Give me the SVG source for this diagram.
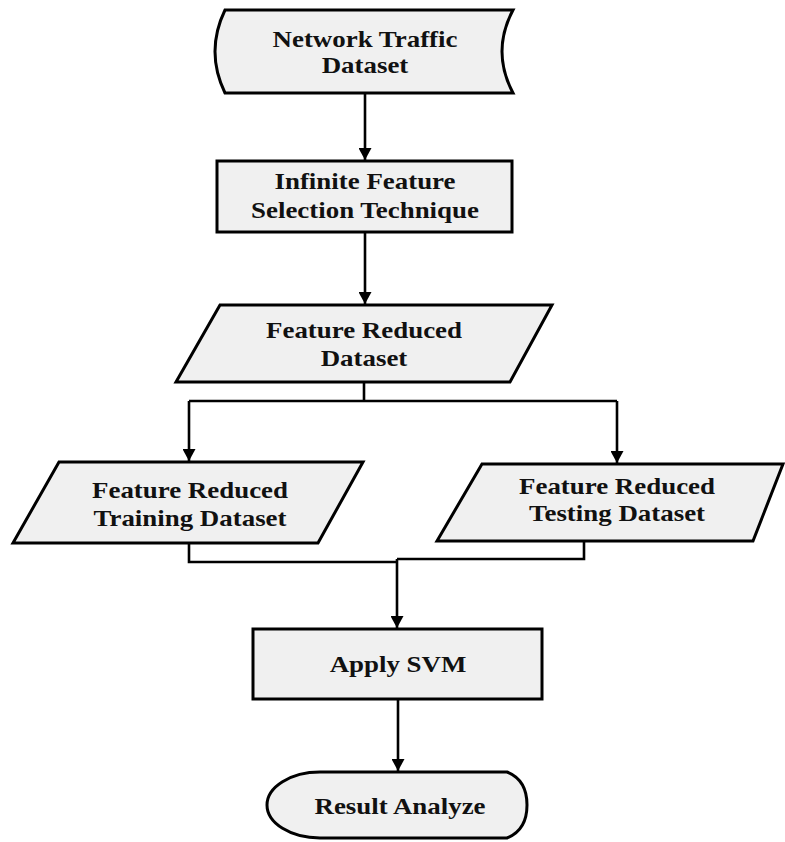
<svg xmlns="http://www.w3.org/2000/svg" width="785" height="842" viewBox="0 0 785 842">
<style>
.shape{fill:#f0f0f0;stroke:#000;stroke-width:3;stroke-linejoin:miter}
.conn{fill:none;stroke:#000;stroke-width:2.6}
.lbl{font-family:"Liberation Serif","Times New Roman",serif;font-weight:bold;font-size:23px;text-anchor:middle;fill:#111}
</style>
<defs>
<marker id="arr" viewBox="0 0 12 13" refX="12" refY="6.5" markerWidth="12" markerHeight="13" markerUnits="userSpaceOnUse" orient="auto">
<path d="M0,0 L12,6.5 L0,13 z" fill="#000"/>
</marker>
</defs>
<rect width="785" height="842" fill="#fff"/>
<g id="connectors">
<path class="conn" d="M365,93 V160" marker-end="url(#arr)"/>
<path class="conn" d="M365,232 V304" marker-end="url(#arr)"/>
<path class="conn" d="M364,382 V401"/>
<path class="conn" d="M189,401 H617"/>
<path class="conn" d="M189,401 V461" marker-end="url(#arr)"/>
<path class="conn" d="M617,401 V463" marker-end="url(#arr)"/>
<path class="conn" d="M189,543 V562 H397"/>
<path class="conn" d="M584,541 V559 H397"/>
<path class="conn" d="M397,559 V628" marker-end="url(#arr)"/>
<path class="conn" d="M398,699 V771" marker-end="url(#arr)"/>
</g>
<g id="n1">
<path class="shape" d="M225,10 L513,10 Q491,51.5 513,93 L225,93 Q205,51.5 225,10 Z"/>
<text class="lbl" transform="translate(365,47) scale(1.17,1)">Network Traffic</text>
<text class="lbl" transform="translate(365,73) scale(1.17,1)">Dataset</text>
</g>
<g id="n2">
<rect class="shape" x="217" y="161" width="295" height="71"/>
<text class="lbl" transform="translate(365,189) scale(1.17,1)">Infinite Feature</text>
<text class="lbl" transform="translate(365,218) scale(1.17,1)">Selection Technique</text>
</g>
<g id="n3">
<path class="shape" d="M220,305 L552,305 L510,382 L176,382 Z"/>
<text class="lbl" transform="translate(364,338) scale(1.17,1)">Feature Reduced</text>
<text class="lbl" transform="translate(364,366) scale(1.17,1)">Dataset</text>
</g>
<g id="n4">
<path class="shape" d="M59,462 L363,462 L318,543 L13,543 Z"/>
<text class="lbl" transform="translate(190,498) scale(1.17,1)">Feature Reduced</text>
<text class="lbl" transform="translate(190,526) scale(1.17,1)">Training Dataset</text>
</g>
<g id="n5">
<path class="shape" d="M482,464 L783,464 L753,541 L437,541 Z"/>
<text class="lbl" transform="translate(617,494) scale(1.17,1)">Feature Reduced</text>
<text class="lbl" transform="translate(617,521) scale(1.17,1)">Testing Dataset</text>
</g>
<g id="n6">
<rect class="shape" x="253" y="629" width="289" height="70"/>
<text class="lbl" transform="translate(398,672) scale(1.17,1)">Apply SVM</text>
</g>
<g id="n7">
<path class="shape" d="M320,772 L507,772 Q527,780 527,805 Q527,830 507,838 L320,838 A53,33 0 0 1 320,772 Z"/>
<text class="lbl" transform="translate(400,814) scale(1.17,1)">Result Analyze</text>
</g>
</svg>
